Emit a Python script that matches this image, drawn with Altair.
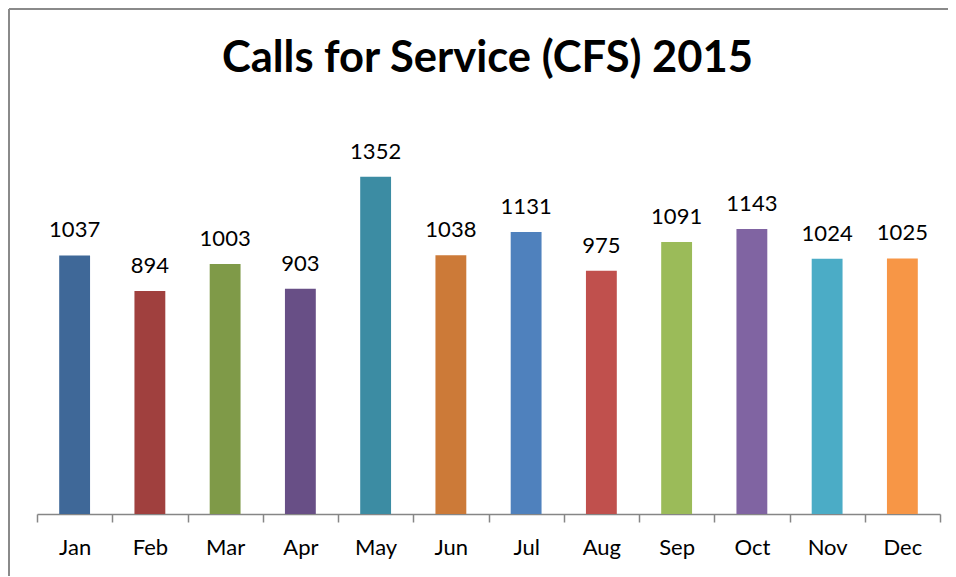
import altair as alt
import pandas as pd

title_text = "Calls for Service (CFS) 2015"
months = ["Jan", "Feb", "Mar", "Apr", "May", "Jun", "Jul", "Aug", "Sep", "Oct", "Nov", "Dec"]
calls = [1037, 894, 1003, 903, 1352, 1038, 1131, 975, 1091, 1143, 1024, 1025]
colors = ["#3F6898", "#A0403E", "#7F9A48", "#684F86", "#3C8CA3", "#CC7A38",
          "#4F81BD", "#C0504D", "#9BBB59", "#8064A2", "#4BACC6", "#F79646"]

df = pd.DataFrame({"month": months, "calls": calls})
tdf = pd.DataFrame({"t": [title_text]})

FONT = "Lato"

x = alt.X("month:N", sort=months, title=None,
          scale=alt.Scale(paddingInner=0, paddingOuter=0),
          axis=alt.Axis(labelAngle=0, labelFontSize=22, labelFont=FONT, labelColor="#000000",
                        labelPadding=15, tickSize=8, tickBand="extent",
                        domainColor="#868686", tickColor="#868686",
                        domainWidth=1.5, tickWidth=1.5))
y = alt.Y("calls:Q", scale=alt.Scale(domain=[0, 1600]), axis=None, title=None)

bars = alt.Chart(df).mark_bar(width=alt.RelativeBandSize(0.41)).encode(
    x=x, y=y,
    color=alt.Color("month:N", sort=months, scale=alt.Scale(domain=months, range=colors), legend=None),
)

labels = alt.Chart(df).mark_text(baseline="alphabetic", dy=-18, fontSize=22, font=FONT, color="#000000").encode(
    x=alt.X("month:N", sort=months), y=y, text="calls:Q"
)

title = alt.Chart(tdf).mark_text(baseline="alphabetic", align="center", fontSize=43.5, fontWeight="bold",
                                 font=FONT, color="#000000").encode(
    x=alt.value(450.5), y=alt.value(-43), text="t:N"
)

frame_left = alt.Chart(tdf).mark_rule(stroke="#8a8a8a", strokeWidth=2).encode(
    x=alt.value(-28), y=alt.value(-106), y2=alt.value(470)
)
frame_top = alt.Chart(tdf).mark_rule(stroke="#8a8a8a", strokeWidth=2).encode(
    x=alt.value(-28), x2=alt.value(920), y=alt.value(-106)
)

chart = alt.layer(frame_left, frame_top, bars, labels, title).properties(
    width=903, height=399,
    autosize=alt.AutoSizeParams(type="none"),
    padding={"left": 29, "top": 107, "right": 8, "bottom": 62},
).configure(background="white", view=alt.ViewConfig(stroke=None))

chart.save("out.html", embed_options={"renderer": "svg", "actions": False})
